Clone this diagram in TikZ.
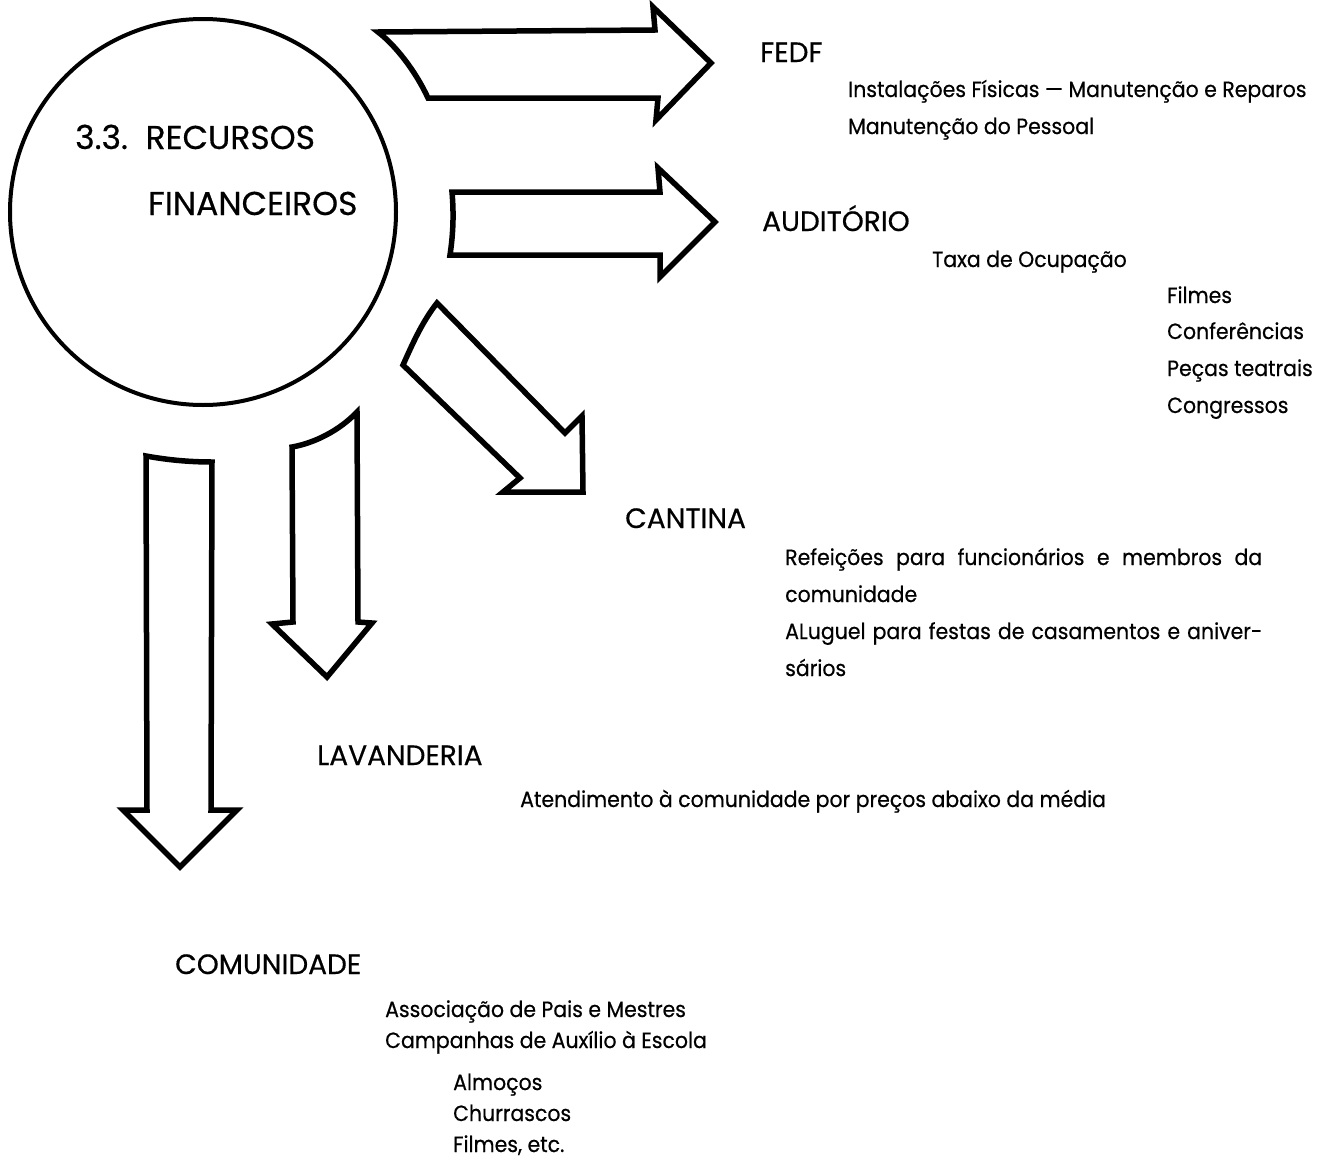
\documentclass[tikz,border=0pt]{standalone}
\usepackage{fontspec}
\newfontfamily\geofont[FakeBold=0.5]{Poppins}
\newfontfamily\geobody[FakeBold=0.5,FakeStretch=0.93]{Poppins}
\tikzset{
  hdr/.style={anchor=base west, inner sep=0pt, font=\geofont\fontsize{28}{32}\selectfont},
  ttl/.style={anchor=base west, inner sep=0pt, font=\geofont\fontsize{33}{38}\selectfont},
  body/.style={anchor=base west, inner sep=0pt, font=\geobody\fontsize{22}{26}\selectfont},
  blockarrow/.style={draw=black, line width=5.5pt, line join=miter, fill=white},
}
\begin{document}
\begin{tikzpicture}[x=1pt,y=-1pt]
\useasboundingbox (0,0) rectangle (1328,1162);
% central circle
\node[draw, circle, line width=4pt, minimum size=386pt, inner sep=0pt] (circ) at (203,212) {};
\node[ttl] (t1) at (75,149) {3.3.\ \ RECURSOS};
\node[ttl] (t2) at (148,215) {FINANCEIROS};
% block arrows
\draw[blockarrow] (378,32) -- (655,30) -- (653,7) -- (711,63) -- (656,120) -- (658,98) -- (428,98)
  .. controls (415,70) and (395,45) .. cycle;
\draw[blockarrow] (452,192) -- (660,192) -- (658,168) -- (715,222) -- (660,277) -- (660,255) -- (450,255)
  .. controls (453,235) and (454,215) .. cycle;
\draw[blockarrow] (437,303) -- (565,433) -- (582,416) -- (583,492) -- (503,492) -- (520,478) -- (403,365)
  .. controls (412,345) and (422,322) .. cycle;
\draw[blockarrow] (292,447) .. controls (315,443) and (340,430) .. (357,412) -- (358,622) -- (372,623)
  -- (327,677) -- (272,624) -- (293,622) -- cycle;
\draw[blockarrow] (146,456) .. controls (168,460) and (190,462) .. (212,462) -- (211,810) -- (237,810)
  -- (180,867) -- (123,810) -- (147,810) -- cycle;
% FEDF
\node[hdr] (fedf) at (760,62) {FEDF};
\node[body] (f1) at (848,97) {Instalações Físicas — Manutenção e Reparos};
\node[body] (f2) at (848,134) {Manutenção do Pessoal};
% AUDITORIO
\node[hdr] (aud) at (762,231) {AUDITÓRIO};
\node[body] (a1) at (932,267) {Taxa de Ocupação};
\node[body] (a2) at (1167,303) {Filmes};
\node[body] (a3) at (1167,339) {Conferências};
\node[body] (a4) at (1167,376) {Peças teatrais};
\node[body] (a5) at (1167,413) {Congressos};
% CANTINA
\node[hdr] (cant) at (625,528) {CANTINA};
\node[body] (c1) at (785,565) {\makebox[477pt][s]{Refeições para funcionários e membros da}};
\node[body] (c2) at (785,602) {comunidade};
\node[body] (c3) at (785,639) {\makebox[477pt][s]{ALuguel para festas de casamentos e aniver-}};
\node[body] (c4) at (785,676) {sários};
% LAVANDERIA
\node[hdr] (lav) at (317,765) {LAVANDERIA};
\node[body] (l1) at (520,807) {Atendimento à comunidade por preços abaixo da média};
% COMUNIDADE
\node[hdr] (com) at (175,974) {COMUNIDADE};
\node[body] (m1) at (385,1017) {Associação de Pais e Mestres};
\node[body] (m2) at (385,1048) {Campanhas de Auxílio à Escola};
\node[body] (m3) at (453,1090) {Almoços};
\node[body] (m4) at (453,1121) {Churrascos};
\node[body] (m5) at (453,1152) {Filmes, etc.};
\end{tikzpicture}
\end{document}
